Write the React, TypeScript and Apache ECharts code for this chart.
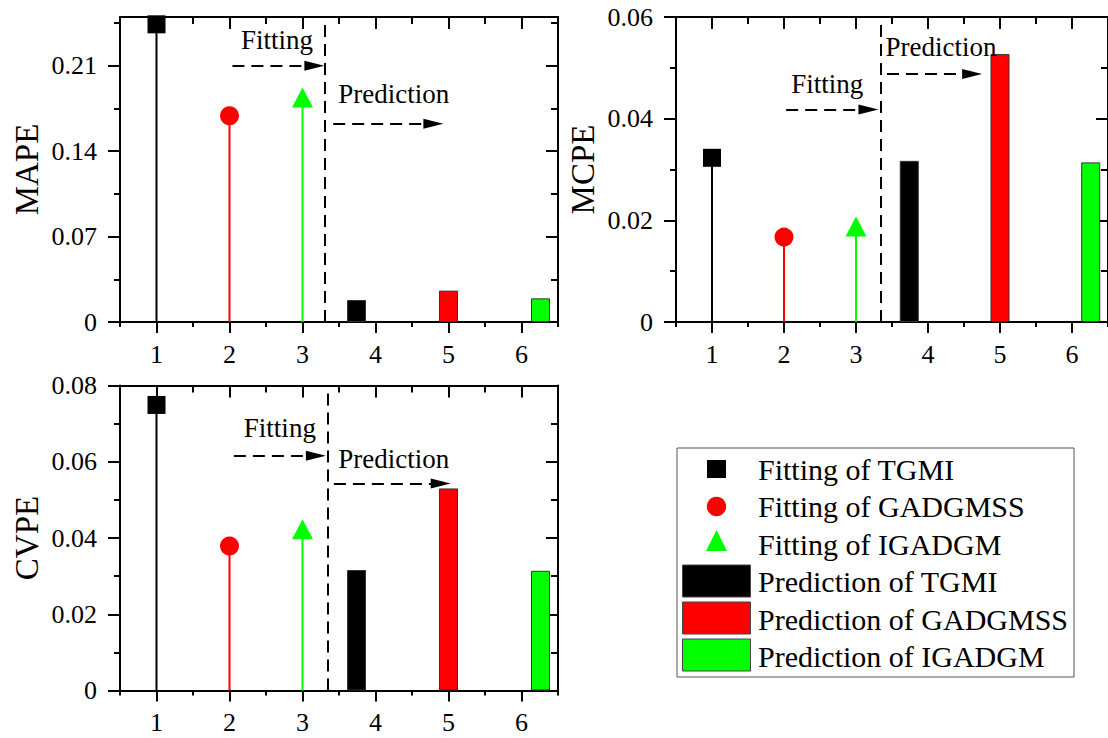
import React, { useEffect, useRef } from 'react';
import * as echarts from 'echarts';

const FONT = "'Liberation Serif', 'Times New Roman', Times, serif";

// ---- data ----
const models = ['TGMI', 'GADGMSS', 'IGADGM'];
const colors = ['#000000', '#ff0000', '#00ff00'];
const fitSymbols = ['rect', 'circle', 'triangle'];
const fitSymbolSizes: any[] = [18, 19, [21, 20]];

const xTicks = [1, 2, 3, 4, 5, 6];
const xMinorTicks = [0.5, 1.5, 2.5, 3.5, 4.5, 5.5, 6.5];
const fitX = [1, 2, 3];
const predX = [3.74, 5, 6.26];

const mapeFit = [0.244, 0.169, 0.184];
const mapePred = [0.018, 0.0257, 0.0194];
const mapeTicks = [0, 0.07, 0.14, 0.21];
const mapeMinorTicks = [0.035, 0.105, 0.175, 0.245];

const mcpeFit = [0.0323, 0.0167, 0.0188];
const mcpePred = [0.0317, 0.0527, 0.0314];
const mcpeTicks = [0, 0.02, 0.04, 0.06];
const mcpeMinorTicks = [0.01, 0.03, 0.05];

const cvpeFit = [0.0749, 0.0379, 0.0423];
const cvpePred = [0.0316, 0.053, 0.0314];
const cvpeTicks = [0, 0.02, 0.04, 0.06, 0.08];
const cvpeMinorTicks = [0.01, 0.03, 0.05, 0.07];

// annotation positions (data coordinates)
const mapeNotes = { div: 3.31, divTop: 0.25, fit: [2.04, 3.3, 0.21], pred: [3.42, 4.93, 0.1624], fitText: [2.65, 0.2309], predText: [4.25, 0.1866] };
const mcpeNotes = { div: 3.34, divTop: 0.06, fit: [2.03, 3.31, 0.0418], pred: [3.43, 4.75, 0.0488], fitText: [2.6, 0.0468], predText: [4.18, 0.0541] };
const cvpeNotes = { div: 3.35, divTop: 0.08, fit: [2.06, 3.32, 0.0616], pred: [3.43, 5.03, 0.0543], fitText: [2.69, 0.0689], predText: [4.25, 0.0606] };

const HEAD = 0.137; // half arrow-head length in x units

const grids = [
  { left: 120, top: 17, width: 438, height: 305 },
  { left: 676, top: 17, width: 438, height: 305 },
  { left: 120, top: 385.5, width: 438, height: 305 },
];

const panels = [
  { name: 'MAPE', fit: mapeFit, pred: mapePred, max: 0.25, ticks: mapeTicks, minor: mapeMinorTicks, notes: mapeNotes },
  { name: 'MCPE', fit: mcpeFit, pred: mcpePred, max: 0.06, ticks: mcpeTicks, minor: mcpeMinorTicks, notes: mcpeNotes },
  { name: 'CVPE', fit: cvpeFit, pred: cvpePred, max: 0.08, ticks: cvpeTicks, minor: cvpeMinorTicks, notes: cvpeNotes },
];

const lineBlack = { color: '#000', width: 2 };

function xAxesFor(g: number) {
  const base: any = {
    type: 'value', gridIndex: g, min: 0.5, max: 6.5,
    splitLine: { show: false },
    axisLine: { show: false, onZero: false, lineStyle: lineBlack },
    axisLabel: { show: false },
  };
  return [
    {
      ...base, position: 'bottom',
      axisLine: { show: true, onZero: false, lineStyle: lineBlack },
      axisTick: { show: true, customValues: xTicks, length: 11, lineStyle: lineBlack },
      axisLabel: { show: true, customValues: xTicks, margin: 19, fontSize: 26, fontFamily: FONT, color: '#000' },
    },
    { ...base, position: 'bottom', axisTick: { show: true, customValues: xMinorTicks, length: 5, lineStyle: lineBlack } },
    {
      ...base, position: 'top',
      axisLine: { show: true, onZero: false, lineStyle: lineBlack },
      axisTick: { show: true, inside: true, customValues: xTicks, length: 12, lineStyle: lineBlack },
    },
    { ...base, position: 'top', axisTick: { show: true, inside: true, customValues: xMinorTicks, length: 7, lineStyle: lineBlack } },
  ];
}

function yAxesFor(g: number, p: any) {
  const base: any = {
    type: 'value', gridIndex: g, min: 0, max: p.max,
    splitLine: { show: false },
    axisLine: { show: false, onZero: false, lineStyle: lineBlack },
    axisLabel: { show: false },
  };
  return [
    {
      ...base, position: 'left',
      name: p.name, nameLocation: 'middle', nameGap: 77, nameRotate: 90,
      nameTextStyle: { fontSize: 33, fontFamily: FONT, color: '#000' },
      axisLine: { show: true, onZero: false, lineStyle: lineBlack },
      axisTick: { show: true, customValues: p.ticks, length: 12, lineStyle: lineBlack },
      axisLabel: { show: true, customValues: p.ticks, margin: 23, fontSize: 26, fontFamily: FONT, color: '#000', formatter: (v: number) => String(v) },
    },
    { ...base, position: 'left', axisTick: { show: true, customValues: p.minor, length: 6, lineStyle: lineBlack } },
    {
      ...base, position: 'right',
      axisLine: { show: true, onZero: false, lineStyle: lineBlack },
      axisTick: { show: true, inside: true, customValues: p.ticks, length: 12, lineStyle: lineBlack },
    },
    { ...base, position: 'right', axisTick: { show: true, inside: true, customValues: p.minor, length: 7, lineStyle: lineBlack } },
  ];
}

function seriesFor(g: number, p: any) {
  const xi = g * 4;
  const yi = g * 4;
  const n = p.notes;
  const out: any[] = [];
  models.forEach((m, i) => {
    const stem: any = {
      type: 'line', name: 'Fitting of ' + m, xAxisIndex: xi, yAxisIndex: yi,
      data: [[fitX[i], 0], [fitX[i], p.fit[i]]],
      symbol: 'none', silent: true, z: 2,
      lineStyle: { color: colors[i], width: 2 },
    };
    if (i === 0) {
      stem.markLine = {
        silent: true, animation: false,
        symbol: ['none', 'none'],
        label: { show: false },
        lineStyle: { type: [12, 7], color: '#000', width: 2 },
        data: [
          [{ coord: [n.div, 0] }, { coord: [n.div, n.divTop] }],
          [{ coord: [n.fit[0], n.fit[2]] }, { coord: [n.fit[1] - HEAD, n.fit[2]], symbol: 'triangle', symbolSize: [10, 20] }],
          [{ coord: [n.pred[0], n.pred[2]] }, { coord: [n.pred[1] - HEAD, n.pred[2]], symbol: 'triangle', symbolSize: [10, 20] }],
        ],
      };
      stem.markPoint = {
        silent: true, animation: false,
        symbol: 'rect', symbolSize: 1,
        itemStyle: { color: 'rgba(0,0,0,0)' },
        label: { show: true, position: 'inside', color: '#000', fontSize: 27, fontFamily: FONT, formatter: (q: any) => q.name },
        data: [
          { name: 'Fitting', coord: n.fitText },
          { name: 'Prediction', coord: n.predText },
        ],
      };
    }
    out.push(stem);
    out.push({
      type: 'scatter', name: 'Fitting of ' + m, xAxisIndex: xi, yAxisIndex: yi,
      data: [[fitX[i], p.fit[i]]],
      symbol: fitSymbols[i], symbolSize: fitSymbolSizes[i], z: 3,
      itemStyle: { color: colors[i], opacity: 1 },
    });
    out.push({
      type: 'bar', name: 'Prediction of ' + m, xAxisIndex: xi, yAxisIndex: yi,
      data: [[predX[i], p.pred[i]]],
      barWidth: 19, barGap: '-100%', z: 2,
      itemStyle: { color: colors[i], borderColor: '#333', borderWidth: 1 },
    });
  });
  return out;
}

function legendGraphic() {
  const children: any[] = [];
  children.push({ type: 'rect', shape: { x: 677, y: 448, width: 397, height: 229 }, style: { fill: '#fff', stroke: '#555', lineWidth: 1 } });
  const rowY = [469, 506.5, 544, 581.5, 619, 656];
  children.push({ type: 'rect', shape: { x: 707, y: 460, width: 19, height: 18 }, style: { fill: colors[0] } });
  children.push({ type: 'circle', shape: { cx: 716.5, cy: 506.5, r: 9.7 }, style: { fill: colors[1] } });
  children.push({ type: 'polygon', shape: { points: [[706, 551], [727, 551], [716.5, 530]] }, style: { fill: colors[2] } });
  [565, 602, 639].forEach((y, i) => {
    children.push({ type: 'rect', shape: { x: 682.5, y, width: 68, height: 32 }, style: { fill: colors[i], stroke: '#444', lineWidth: 1 } });
  });
  const labels = [
    ...models.map((m) => 'Fitting of ' + m),
    ...models.map((m) => 'Prediction of ' + m),
  ];
  labels.forEach((t, i) => {
    children.push({
      type: 'text', x: 758, y: rowY[i],
      style: { text: t, fontSize: 30, fontFamily: FONT, fill: '#000', align: 'left', verticalAlign: 'middle' },
    });
  });
  return [{ type: 'group', children, silent: true }];
}

export default function App() {
  const ref = useRef<HTMLDivElement>(null);
  useEffect(() => {
    if (!ref.current) return;
    const chart = echarts.init(ref.current, undefined, { renderer: 'svg' });
    const xAxis: any[] = [];
    const yAxis: any[] = [];
    const series: any[] = [];
    panels.forEach((p, g) => {
      xAxis.push(...xAxesFor(g));
      yAxis.push(...yAxesFor(g, p));
      series.push(...seriesFor(g, p));
    });
    chart.setOption({
      animation: false,
      backgroundColor: '#fff',
      textStyle: { fontFamily: FONT },
      grid: grids,
      xAxis,
      yAxis,
      series,
      graphic: legendGraphic(),
    });
    return () => chart.dispose();
  }, []);
  return <div ref={ref} style={{ position: 'absolute', left: 0, top: 0, width: 1108, height: 738 }} />;
}
